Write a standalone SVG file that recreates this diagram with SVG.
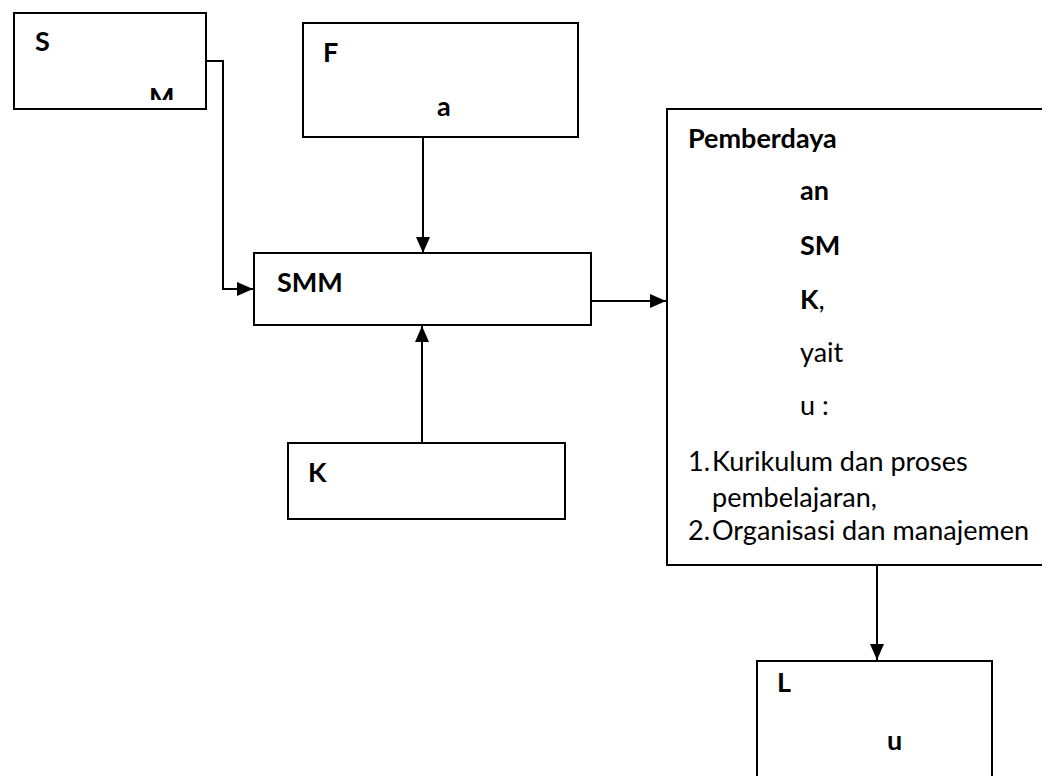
<svg xmlns="http://www.w3.org/2000/svg" width="1053" height="776" viewBox="0 0 1053 776">
<style>
.box{fill:#fff;stroke:#000;stroke-width:2}
.open{fill:none;stroke:#000;stroke-width:2}
.t{font-family:Lato,"Liberation Sans",sans-serif;font-size:27px;fill:#000}
.b{font-weight:bold}
.c{fill:none;stroke:#000;stroke-width:2}
</style>
<defs>
<marker id="ah" viewBox="0 0 16 14" refX="16" refY="7" markerWidth="16" markerHeight="14" markerUnits="userSpaceOnUse" orient="auto">
<path d="M0,0 L16,7 L0,14 Z" fill="#000"/>
</marker>
<clipPath id="clipS"><rect x="14" y="13" width="192" height="87"/></clipPath>
</defs>
<rect width="1053" height="776" fill="#fff"/>
<g id="connectors">
<path class="c" d="M206,61 H223 V289 H253" marker-end="url(#ah)"/>
<path class="c" d="M423,137 V253" marker-end="url(#ah)"/>
<path class="c" d="M422,443 V326" marker-end="url(#ah)"/>
<path class="c" d="M591,301 H666" marker-end="url(#ah)"/>
<path class="c" d="M877,565 V660" marker-end="url(#ah)"/>
</g>
<g id="node-s">
<rect class="box" x="14" y="13" width="192" height="96"/>
<text class="t b" x="35" y="51">S</text>
<text class="t b" x="149" y="107" clip-path="url(#clipS)">M</text>
</g>
<g id="node-f">
<rect class="box" x="303" y="23" width="275" height="114"/>
<text class="t b" x="323" y="62">F</text>
<text class="t b" x="437" y="116">a</text>
</g>
<g id="node-smm">
<rect class="box" x="254" y="253" width="337" height="72"/>
<text class="t b" x="277" y="292">SMM</text>
</g>
<g id="node-k">
<rect class="box" x="288" y="443" width="277" height="76"/>
<text class="t b" x="308" y="482">K</text>
</g>
<g id="node-pemberdayaan">
<rect x="667" y="109" width="375" height="456" fill="#fff"/>
<path class="open" d="M1042,109 H667 V565 H1042"/>
<text class="t b" x="688" y="148">Pemberdaya</text>
<text class="t b" x="800" y="200">an</text>
<text class="t b" x="800" y="255">SM</text>
<text class="t" x="800" y="309"><tspan class="b">K</tspan>,</text>
<text class="t" x="800" y="362">yait</text>
<text class="t" x="800" y="415">u :</text>
<text class="t" x="688" y="471">1.</text>
<text class="t" x="712" y="471">Kurikulum dan proses</text>
<text class="t" x="712" y="507">pembelajaran,</text>
<text class="t" x="688" y="540">2.</text>
<text class="t" x="712" y="540">Organisasi dan manajemen</text>
</g>
<g id="node-l">
<path class="box" d="M757,777 V661 H992 V777"/>
<text class="t b" x="777" y="692">L</text>
<text class="t b" x="887" y="750">u</text>
</g>
</svg>
